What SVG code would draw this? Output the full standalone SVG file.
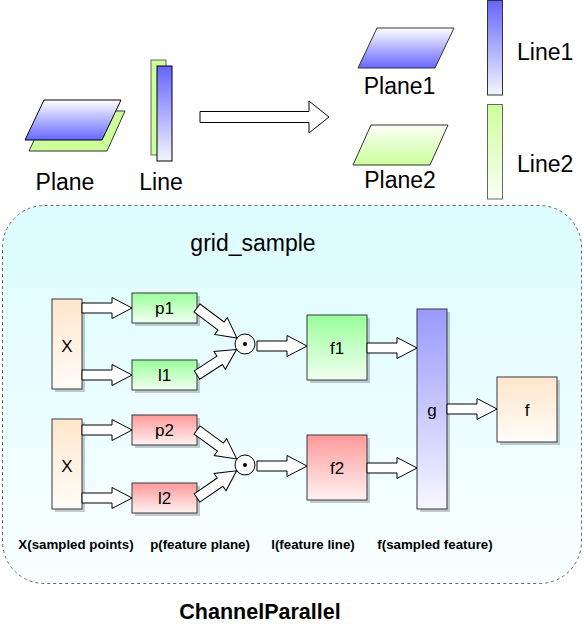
<svg xmlns="http://www.w3.org/2000/svg" width="584" height="631" viewBox="0 0 584 631">
<defs>
<linearGradient id="gBlueUp" x1="0" y1="0" x2="0" y2="1"><stop offset="0" stop-color="#ffffff"/><stop offset="1" stop-color="#6666ff"/></linearGradient>
<linearGradient id="gBlueDown" x1="0" y1="0" x2="0" y2="1"><stop offset="0" stop-color="#6666ff"/><stop offset="1" stop-color="#f4f4ff"/></linearGradient>
<linearGradient id="gGreenUp" x1="0" y1="0" x2="0" y2="1"><stop offset="0" stop-color="#fbfff7"/><stop offset="1" stop-color="#ccff99"/></linearGradient>
<linearGradient id="gGreenDown" x1="0" y1="0" x2="0" y2="1"><stop offset="0" stop-color="#ccff99"/><stop offset="1" stop-color="#fbfff7"/></linearGradient>
<linearGradient id="gBg" x1="0" y1="0" x2="0" y2="1"><stop offset="0" stop-color="#dbfcff"/><stop offset="1" stop-color="#f9feff"/></linearGradient>
<linearGradient id="gGreen" x1="0" y1="0" x2="0" y2="1"><stop offset="0" stop-color="#99ff99"/><stop offset="1" stop-color="#f2fff2"/></linearGradient>
<linearGradient id="gRed" x1="0" y1="0" x2="0" y2="1"><stop offset="0" stop-color="#ff9999"/><stop offset="1" stop-color="#fff2f2"/></linearGradient>
<linearGradient id="gPeach" x1="0" y1="0" x2="0" y2="1"><stop offset="0" stop-color="#ffe6cc"/><stop offset="1" stop-color="#fffcf8"/></linearGradient>
<linearGradient id="gPurple" x1="0" y1="0" x2="0" y2="1"><stop offset="0" stop-color="#9999ff"/><stop offset="1" stop-color="#f7f7ff"/></linearGradient>
</defs>
<style>
text{font-family:"Liberation Sans",Arial,sans-serif;fill:#000}
.big{font-size:23px}
.node{font-size:17px}
.lbl{font-size:13.3px;font-weight:bold}
.box{stroke:#36393d;stroke-width:1}
.shadow{fill:#000;opacity:0.2}
.arr{fill:#fff;stroke:#000;stroke-width:1;stroke-linejoin:miter}
</style>

<!-- Top illustration -->
<g id="plane">
<polygon points="48,111 125,111 107,151 29,151" fill="#ccff99" stroke="#333" stroke-width="1"/>
<polygon points="44,100 121,100 102,140 25,140" fill="url(#gBlueUp)" stroke="#000" stroke-width="1"/>
<text class="big" x="65" y="190" text-anchor="middle">Plane</text>
</g>
<g id="line">
<rect x="151" y="60" width="15" height="95" fill="#ccff99" stroke="#666" stroke-width="1"/>
<rect x="157" y="66" width="15" height="95" fill="url(#gBlueDown)" stroke="#000" stroke-width="1"/>
<text class="big" x="161" y="190" text-anchor="middle">Line</text>
</g>
<g id="plane1">
<polygon points="377,28 454,28 435,68 358,68" fill="url(#gBlueUp)" stroke="#333" stroke-width="1"/>
<text class="big" x="399.5" y="94" text-anchor="middle">Plane1</text>
</g>
<g id="plane2">
<polygon points="371,125 448,125 430,165 353,165" fill="url(#gGreenUp)" stroke="#333" stroke-width="1"/>
<text class="big" x="400" y="188" text-anchor="middle">Plane2</text>
</g>
<g id="line1">
<rect x="487.5" y="0.5" width="15" height="94.5" fill="url(#gBlueDown)" stroke="#333" stroke-width="1"/>
<text class="big" x="517" y="60">Line1</text>
</g>
<g id="line2">
<rect x="487.5" y="104.5" width="15" height="94.5" fill="url(#gGreenDown)" stroke="#666" stroke-width="1"/>
<text class="big" x="517" y="172">Line2</text>
</g>
<g id="bigarrow">
<polygon class="arr" points="200,111.5 309,111.5 309,101 329,117 309,133 309,122.5 200,122.5" stroke="#333"/>
</g>

<!-- Container -->
<g id="container">
<rect x="2.5" y="205.5" width="579" height="378" rx="42" ry="42" fill="url(#gBg)" stroke="#666" stroke-width="1" stroke-dasharray="3,3"/>
<text class="big" x="253" y="251" text-anchor="middle">grid_sample</text>
</g>

<!-- Nodes -->
<g id="X1">
<rect class="shadow" x="55" y="302" width="30" height="90"/>
<rect class="box" x="52" y="299" width="30" height="90" fill="url(#gPeach)"/>
<text class="node" x="67" y="352" text-anchor="middle">X</text>
</g>
<g id="X2">
<rect class="shadow" x="55" y="422" width="30" height="90"/>
<rect class="box" x="52" y="419" width="30" height="90" fill="url(#gPeach)"/>
<text class="node" x="67" y="472" text-anchor="middle">X</text>
</g>
<g id="p1">
<rect class="shadow" x="135" y="296" width="65" height="30"/>
<rect class="box" x="132" y="293" width="65" height="30" fill="url(#gGreen)"/>
<text class="node" x="164.5" y="314" text-anchor="middle">p1</text>
</g>
<g id="l1">
<rect class="shadow" x="135" y="363" width="65" height="30"/>
<rect class="box" x="132" y="360" width="65" height="30" fill="url(#gGreen)"/>
<text class="node" x="164.5" y="381" text-anchor="middle">l1</text>
</g>
<g id="p2">
<rect class="shadow" x="135" y="418" width="65" height="30"/>
<rect class="box" x="132" y="415" width="65" height="30" fill="url(#gRed)"/>
<text class="node" x="164.5" y="436" text-anchor="middle">p2</text>
</g>
<g id="l2">
<rect class="shadow" x="135" y="486" width="65" height="30"/>
<rect class="box" x="132" y="483" width="65" height="30" fill="url(#gRed)"/>
<text class="node" x="164.5" y="504" text-anchor="middle">l2</text>
</g>
<g id="dot1">
<circle cx="245" cy="344" r="10" fill="#fff" stroke="#000" stroke-width="1"/>
<circle cx="245" cy="344" r="2" fill="#000"/>
</g>
<g id="dot2">
<circle cx="245" cy="465" r="10" fill="#fff" stroke="#000" stroke-width="1"/>
<circle cx="245" cy="465" r="2" fill="#000"/>
</g>
<g id="f1">
<rect class="shadow" x="310" y="318" width="60" height="65"/>
<rect class="box" x="307" y="315" width="60" height="65" fill="url(#gGreen)"/>
<text class="node" x="337" y="354" text-anchor="middle">f1</text>
</g>
<g id="f2">
<rect class="shadow" x="310" y="438" width="60" height="65"/>
<rect class="box" x="307" y="435" width="60" height="65" fill="url(#gRed)"/>
<text class="node" x="337" y="474" text-anchor="middle">f2</text>
</g>
<g id="g">
<rect class="shadow" x="420" y="312" width="30" height="200"/>
<rect class="box" x="417" y="309" width="30" height="200" fill="url(#gPurple)"/>
<text class="node" x="432" y="416" text-anchor="middle">g</text>
</g>
<g id="f">
<rect class="shadow" x="500" y="380" width="60" height="65"/>
<rect class="box" x="497" y="377" width="60" height="65" fill="url(#gPeach)"/>
<text class="node" x="527" y="416" text-anchor="middle">f</text>
</g>

<!-- Connectors -->
<g id="connectors">
<polygon class="arr" points="82,303 112,303 112,297.5 132,308 112,318.5 112,313 82,313"/>
<polygon class="arr" points="82,370 112,370 112,364.5 132,375 112,385.5 112,380 82,380"/>
<polygon class="arr" points="82,425 112,425 112,419.5 132,430 112,440.5 112,435 82,435"/>
<polygon class="arr" points="82,493 112,493 112,487.5 132,498 112,508.5 112,503 82,503"/>
<polygon class="arr" transform="translate(197,308) rotate(36.87)" points="0,-5 30,-5 30,-10.5 50,0 30,10.5 30,5 0,5"/>
<polygon class="arr" transform="translate(197,375) rotate(-32.86)" points="0,-5 27,-5 27,-10.5 47,0 27,10.5 27,5 0,5"/>
<polygon class="arr" transform="translate(197,430) rotate(36.1)" points="0,-5 29,-5 29,-10.5 49,0 29,10.5 29,5 0,5"/>
<polygon class="arr" transform="translate(197,498) rotate(-34.5)" points="0,-5 28,-5 28,-10.5 48,0 28,10.5 28,5 0,5"/>
<polygon class="arr" points="257,341 287,341 287,335.5 307,346 287,356.5 287,351 257,351"/>
<polygon class="arr" points="257,461 287,461 287,455.5 307,466 287,476.5 287,471 257,471"/>
<polygon class="arr" points="367,343 397,343 397,337.5 417,348 397,358.5 397,353 367,353"/>
<polygon class="arr" points="367,463 397,463 397,457.5 417,468 397,478.5 397,473 367,473"/>
<polygon class="arr" points="447,404 477,404 477,398.5 497,409 477,419.5 477,414 447,414"/>
</g>

<!-- Labels -->
<g id="labels">
<text class="lbl" x="76" y="549" text-anchor="middle">X(sampled points)</text>
<text class="lbl" x="200" y="549" text-anchor="middle">p(feature plane)</text>
<text class="lbl" x="313" y="549" text-anchor="middle">l(feature line)</text>
<text class="lbl" x="435" y="549" text-anchor="middle">f(sampled feature)</text>
<text x="260" y="619" text-anchor="middle" style="font-size:21.5px;font-weight:bold">ChannelParallel</text>
</g>
</svg>
